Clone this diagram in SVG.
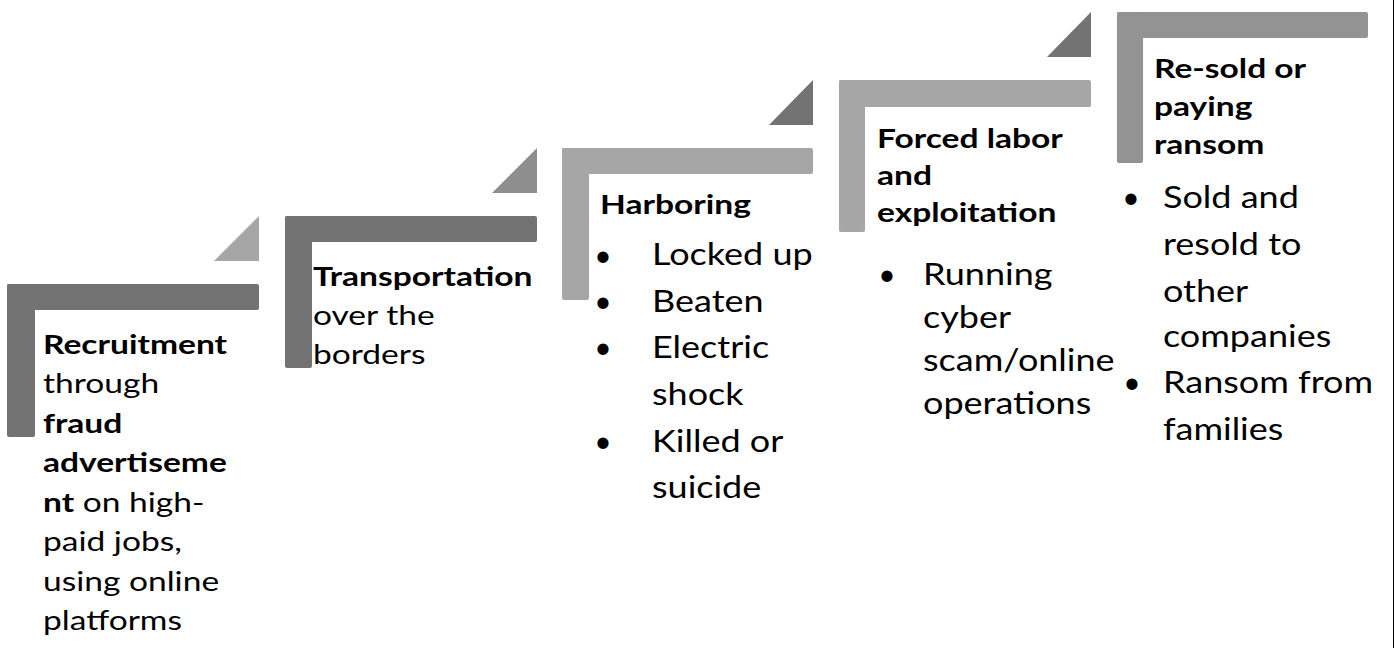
<svg xmlns="http://www.w3.org/2000/svg" width="1395" height="648" viewBox="0 0 1395 648">
<style>
  .dark{fill:#737373}
  .light{fill:#a6a6a6}
  .mid{fill:#8e8e8e}
  .mid5{fill:#939393}
  .t{font-family:Lato,"Noto Sans",sans-serif;fill:#000}
  .h{font-size:27.5px}
  .b{font-weight:bold}
  .li{font-size:30px}
</style>
<rect x="0" y="0" width="1395" height="648" fill="#ffffff"/>
<line x1="1393.5" y1="0" x2="1393.5" y2="648" stroke="#000" stroke-width="1"/>

<g id="step1">
  <rect class="dark" x="7" y="284" width="252" height="26" rx="2"/>
  <rect class="dark" x="7" y="284" width="28" height="153" rx="2"/>
  <polygon class="light" points="214,261 259,216 259,261"/>
  <g transform="translate(43,0) scale(1.22,1)">
    <text class="t h">
      <tspan x="0" y="354" class="b">Recruitment</tspan>
      <tspan x="0" y="393.5">through</tspan>
      <tspan x="0" y="433" class="b">fraud</tspan>
      <tspan x="0" y="472.5" class="b">advertiseme</tspan>
      <tspan x="0" y="512"><tspan class="b">nt</tspan> on high-</tspan>
      <tspan x="0" y="551.5">paid jobs,</tspan>
      <tspan x="0" y="591">using online</tspan>
      <tspan x="0" y="630.5">platforms</tspan>
    </text>
  </g>
</g>

<g id="step2">
  <rect class="dark" x="285" y="216" width="252" height="26" rx="2"/>
  <rect class="dark" x="285" y="216" width="27" height="152" rx="2"/>
  <polygon class="mid" points="492,193 537,148 537,193"/>
  <g transform="translate(313,0) scale(1.22,1)">
    <text class="t h">
      <tspan x="0" y="286" class="b">Transportation</tspan>
      <tspan x="0" y="325">over the</tspan>
      <tspan x="0" y="364">borders</tspan>
    </text>
  </g>
</g>

<g id="step3">
  <rect class="light" x="562" y="148" width="251" height="26" rx="2"/>
  <rect class="light" x="562" y="148" width="27" height="152" rx="2"/>
  <polygon class="dark" points="769,125 813,80 813,125"/>
  <g transform="translate(600,0) scale(1.22,1)">
    <text class="t h b" x="0" y="214">Harboring</text>
  </g>
  <text class="t li" x="603" y="266" text-anchor="middle">•</text>
  <text class="t li" x="603" y="312" text-anchor="middle">•</text>
  <text class="t li" x="603" y="358" text-anchor="middle">•</text>
  <text class="t li" x="603" y="452" text-anchor="middle">•</text>
  <g transform="translate(652,0) scale(1.2,1)">
    <text class="t li">
      <tspan x="0" y="265">Locked up</tspan>
      <tspan x="0" y="312">Beaten</tspan>
      <tspan x="0" y="358">Electric</tspan>
      <tspan x="0" y="405">shock</tspan>
      <tspan x="0" y="452">Killed or</tspan>
      <tspan x="0" y="498">suicide</tspan>
    </text>
  </g>
</g>

<g id="step4">
  <rect class="light" x="839" y="80" width="252" height="27" rx="2"/>
  <rect class="light" x="839" y="80" width="26" height="152" rx="2"/>
  <polygon class="dark" points="1047,57 1091,12 1091,57"/>
  <g transform="translate(877,0) scale(1.22,1)">
    <text class="t h b">
      <tspan x="0" y="148">Forced labor</tspan>
      <tspan x="0" y="185">and</tspan>
      <tspan x="0" y="222">exploitation</tspan>
    </text>
  </g>
  <text class="t li" x="887" y="285" text-anchor="middle">•</text>
  <g transform="translate(923,0) scale(1.2,1)">
    <text class="t li">
      <tspan x="0" y="285">Running</tspan>
      <tspan x="0" y="328">cyber</tspan>
      <tspan x="0" y="371">scam/online</tspan>
      <tspan x="0" y="414">operations</tspan>
    </text>
  </g>
</g>

<g id="step5">
  <rect class="mid5" x="1117" y="12" width="251" height="26" rx="2"/>
  <rect class="mid5" x="1117" y="12" width="26" height="151" rx="2"/>
  <g transform="translate(1154,0) scale(1.22,1)">
    <text class="t h b">
      <tspan x="0" y="78">Re-sold or</tspan>
      <tspan x="0" y="116">paying</tspan>
      <tspan x="0" y="154">ransom</tspan>
    </text>
  </g>
  <text class="t li" x="1131" y="208" text-anchor="middle">•</text>
  <text class="t li" x="1132" y="393" text-anchor="middle">•</text>
  <g transform="translate(1163,0) scale(1.2,1)">
    <text class="t li">
      <tspan x="0" y="208">Sold and</tspan>
      <tspan x="0" y="255">resold to</tspan>
      <tspan x="0" y="302">other</tspan>
      <tspan x="0" y="347">companies</tspan>
      <tspan x="0" y="393">Ransom from</tspan>
      <tspan x="0" y="440">families</tspan>
    </text>
  </g>
</g>

<g id="connectors"></g>
</svg>
